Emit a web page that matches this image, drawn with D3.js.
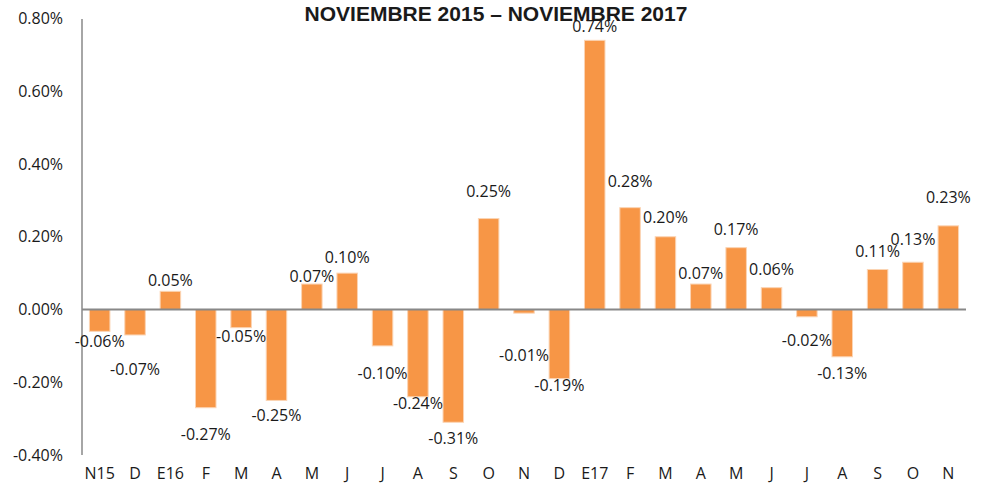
<!DOCTYPE html>
<html>
<head>
<meta charset="utf-8">
<script src="https://cdn.jsdelivr.net/npm/d3@7"></script>
<style>
  body { margin: 0; background: #fff; }
  text { font-family: "Open Sans", sans-serif; fill: #1a1a1a; }
</style>
</head>
<body>
<div id="chart"></div>
<script>
const title = 'NOVIEMBRE 2015 \u2013 NOVIEMBRE 2017'
const months = ['N15', 'D', 'E16', 'F', 'M', 'A', 'M', 'J', 'J', 'A', 'S', 'O', 'N',
                'D', 'E17', 'F', 'M', 'A', 'M', 'J', 'J', 'A', 'S', 'O', 'N']
const values = [-0.06, -0.07, 0.05, -0.27, -0.05, -0.25, 0.07, 0.10, -0.10, -0.24, -0.31, 0.25, -0.01,
                -0.19, 0.74, 0.28, 0.20, 0.07, 0.17, 0.06, -0.02, -0.13, 0.11, 0.13, 0.23]
const yTicks = [-0.4, -0.2, 0, 0.2, 0.4, 0.6, 0.8]

// where each data label sits on the value axis (the original places them by hand)
const labelAt = [-0.087, -0.164, 0.079, -0.342, -0.075, -0.290, 0.090, 0.144, -0.175, -0.257, -0.353, 0.326, -0.127,
                 -0.210, 0.777, 0.351, 0.252, 0.098, 0.219, 0.111, -0.084, -0.175, 0.159, 0.194, 0.307]

const width = 986
const height = 483
const left = 82, right = 966
const fs = '16px'

const svg = d3.select('#chart').append('svg')
    .attr('width', width)
    .attr('height', height)

const x = d3.scaleBand()
    .domain(d3.range(months.length))
    .range([left, right])
    .paddingInner(0.42)
    .paddingOuter(0.21)

const y = d3.scaleLinear()
    .domain([-0.4, 0.8])
    .range([455, 18.5])

// y axis labels
const yAxis = svg.append('g')
    .attr('transform', `translate(${left},0)`)
    .call(d3.axisLeft(y).tickValues(yTicks).tickSize(0).tickPadding(19)
        .tickFormat(d => d.toFixed(2) + '%'))
yAxis.select('.domain').remove()
yAxis.selectAll('text').style('font-family', '"Open Sans", sans-serif').style('font-size', fs).attr('fill', '#1a1a1a')

// x labels
const xAxis = svg.append('g')
    .attr('transform', 'translate(0,467.5)')
    .call(d3.axisBottom(x).tickSize(0).tickPadding(0).tickFormat(i => months[i]))
xAxis.select('.domain').remove()
xAxis.selectAll('text').style('font-family', '"Open Sans", sans-serif').style('font-size', fs).attr('fill', '#1a1a1a')

// bars
svg.selectAll('rect.bar')
    .data(values)
    .enter()
    .append('rect')
    .attr('class', 'bar')
    .attr('x', (d, i) => x(i))
    .attr('width', x.bandwidth())
    .attr('y', d => y(Math.max(0, d)))
    .attr('height', d => Math.abs(y(d) - y(0)))
    .attr('fill', '#F79646')
    .attr('stroke', '#FBD4B4')
    .attr('stroke-width', 1)

// vertical axis line and zero line
svg.append('line')
    .attr('x1', left).attr('x2', left)
    .attr('y1', 19).attr('y2', 455)
    .attr('stroke', '#888').attr('stroke-width', 1.5)
svg.append('line')
    .attr('x1', left).attr('x2', right)
    .attr('y1', y(0)).attr('y2', y(0))
    .attr('stroke', '#888').attr('stroke-width', 2)

// data labels
svg.selectAll('text.lbl')
    .data(values)
    .enter()
    .append('text')
    .attr('class', 'lbl')
    .attr('x', (d, i) => x(i) + x.bandwidth() / 2)
    .attr('y', (d, i) => y(labelAt[i]))
    .attr('dy', '0.35em')
    .attr('text-anchor', 'middle')
    .style('font-size', fs)
    .text(d => d.toFixed(2) + '%')

// title
svg.append('text')
    .attr('x', 496)
    .attr('y', 21)
    .attr('text-anchor', 'middle')
    .style('font-family', '"Liberation Sans", Arial, sans-serif')
    .style('font-weight', 'bold')
    .style('font-size', '21px')
    .attr('fill', '#000')
    .text(title)
</script>
</body>
</html>
